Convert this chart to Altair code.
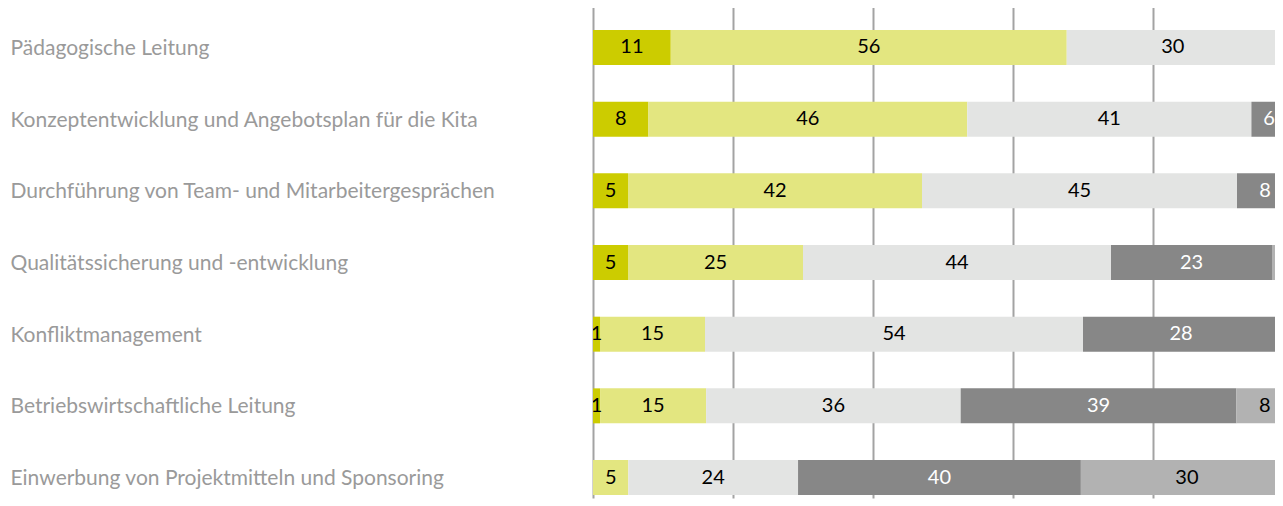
import altair as alt
import pandas as pd

categories = [
    "Pädagogische Leitung",
    "Konzeptentwicklung und Angebotsplan für die Kita",
    "Durchführung von Team- und Mitarbeitergesprächen",
    "Qualitätssicherung und -entwicklung",
    "Konfliktmanagement",
    "Betriebswirtschaftliche Leitung",
    "Einwerbung von Projektmitteln und Sponsoring",
]

series_names = ["s1", "s2", "s3", "s4", "s5"]
series_colors = ["#cccc00", "#e3e680", "#e3e4e3", "#878787", "#b2b2b2"]
series_text_colors = ["#000000", "#000000", "#000000", "#ffffff", "#000000"]

s1 = [11, 8, 5, 5, 1, 1, 0]
s2 = [56, 46, 42, 25, 15, 15, 5]
s3 = [30, 41, 45, 44, 54, 36, 24]
s4 = [2, 6, 8, 23, 28, 39, 40]
s5 = [0, 0, 0, 3, 2, 8, 30]

all_series = [s1, s2, s3, s4, s5]

grid_values = [0, 0.2, 0.4, 0.6, 0.8]
visible_share = 682 / 700  # the view is cut off at the right edge

rows = []
for si, (name, vals) in enumerate(zip(series_names, all_series)):
    for ci, cat in enumerate(categories):
        if vals[ci] > 0:
            rows.append({"category": cat, "series": name, "order": si, "value": vals[ci]})
df = pd.DataFrame(rows)

vis = visible_share
base = alt.Chart(df).transform_stack(
    stack="value",
    groupby=["category"],
    as_=["x0", "x1"],
    offset="normalize",
    sort=[alt.SortField("order", order="ascending")],
).transform_calculate(
    mid=f"datum.x0 < {vis - 0.02} ? min((datum.x0 + datum.x1) / 2, {vis - 0.0085}) : (datum.x0 + datum.x1) / 2"
)

y_scale = alt.Scale(paddingInner=0.512, paddingOuter=0.265, range=[0, 503])

y_enc = alt.Y(
    "category:N",
    sort=categories,
    title=None,
    scale=y_scale,
    axis=alt.Axis(
        domain=False,
        ticks=False,
        grid=False,
        labelAlign="left",
        labelPadding=583,
        labelOffset=1.5,
        labelFontSize=21,
        labelFont="Lato",
        labelColor="#9a9a9a",
        labelLimit=0,
    ),
)

bars = base.mark_bar(clip=True).encode(
    x=alt.X(
        "x0:Q",
        scale=alt.Scale(domain=[0, visible_share], nice=False, zero=True),
        title=None,
        axis=alt.Axis(
            values=grid_values,
            grid=True,
            gridColor="#a3a3a3",
            gridWidth=2,
            labels=False,
            ticks=False,
            domain=False,
        ),
    ),
    x2="x1:Q",
    y=y_enc,
    color=alt.Color(
        "series:N",
        scale=alt.Scale(domain=series_names, range=series_colors),
        legend=None,
    ),
)

texts = base.mark_text(
    fontSize=20, font="Lato", baseline="middle", align="center", clip=True
).encode(
    x=alt.X("mid:Q"),
    y=alt.Y("category:N", sort=categories),
    text=alt.Text("value:Q", format="d"),
    color=alt.Color(
        "series:N",
        scale=alt.Scale(domain=series_names, range=series_text_colors),
        legend=None,
    ),
)

chart = (
    alt.layer(bars, texts)
    .resolve_scale(color="independent")
    .properties(
        width=682,
        height=487,
        padding={"left": 2, "top": 3, "right": 0, "bottom": 0},
    )
    .configure_view(stroke=None)
)

chart.save("out.html", embed_options={"renderer": "svg", "actions": False})
